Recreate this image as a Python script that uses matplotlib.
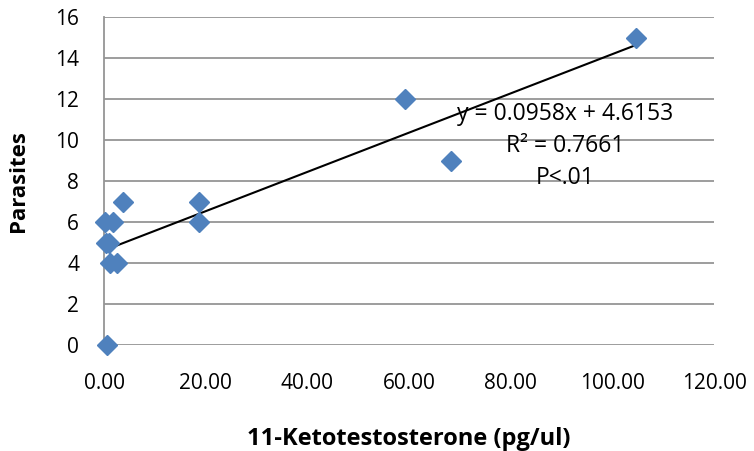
import matplotlib
matplotlib.use("Agg")
import matplotlib.pyplot as plt
import numpy as np

plt.rcParams['font.family'] = ['Open Sans', 'DejaVu Sans']

# Data
ketotestosterone = [0.5, 0.2, 1.8, 0.3, 1.0, 1.2, 2.5, 3.7, 18.7, 18.7, 59.3, 68.3, 104.7]
parasites = [0, 6, 6, 5, 5, 4, 4, 7, 7, 6, 12, 9, 15]
slope = 0.0958
intercept = 4.6153
x_ticks = [0, 20, 40, 60, 80, 100, 120]
y_ticks = [0, 2, 4, 6, 8, 10, 12, 14, 16]

fig = plt.figure(figsize=(7.54, 4.51), dpi=100)
ax = fig.add_axes([0.138, 0.235, 0.809, 0.727])

grid_c = '#959595'
for yv in y_ticks:
    ax.axhline(yv, color=grid_c, lw=1.3, zorder=1)

xs = np.array([min(ketotestosterone), max(ketotestosterone)])
ax.plot(xs, slope * xs + intercept, color='black', lw=1.5, zorder=2)

ax.plot(ketotestosterone, parasites, linestyle='none', marker='D', markersize=10,
        color='#4F81BD', markeredgecolor='#4F81BD', zorder=3, clip_on=False)

ax.set_xlim(0, 120)
ax.set_ylim(0, 16)
ax.set_xticks(x_ticks)
ax.set_xticklabels([f"{v:.2f}" for v in x_ticks])
ax.set_yticks(y_ticks)
ax.set_yticklabels([str(v) for v in y_ticks])

for s in ['top', 'right', 'bottom']:
    ax.spines[s].set_visible(False)
ax.spines['left'].set_color(grid_c)
ax.spines['left'].set_linewidth(1.3)
ax.tick_params(axis='both', length=0, labelsize=15, colors='black')
ax.tick_params(axis='x', pad=20)
ax.tick_params(axis='y', pad=18)

ax.set_xlabel('11-Ketotestosterone (pg/ul)', fontsize=17, fontweight='bold', labelpad=24)
ax.set_ylabel('Parasites', fontsize=16, fontweight='bold', labelpad=19)

ax.text(0.756, 0.607, f"y = {slope}x + {intercept}\nR² = 0.7661\nP<.01",
        transform=ax.transAxes, ha='center', va='center', fontsize=16.5,
        linespacing=1.45, zorder=4)

fig.savefig('out.png', dpi=100)
